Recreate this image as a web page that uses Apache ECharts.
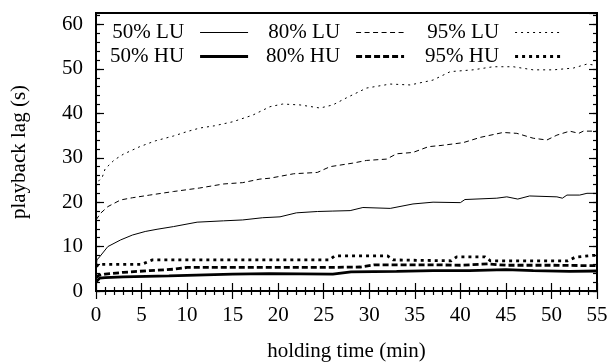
<!DOCTYPE html>
<html>
<head>
<meta charset="utf-8">
<script src="https://cdn.jsdelivr.net/npm/echarts@6/dist/echarts.min.js"></script>
</head>
<body style="margin:0;background:#fff">
<div id="main" style="width:613px;height:362px;"></div>
<script>
// holding time (min) / playback lag (s)
var lu50T = [0, 0.1, 0.4, 1.3, 2.7, 4, 5.4, 6.7, 8.5, 11.1, 14, 16.1, 18.3, 20.2, 22, 24.3, 26, 27.9, 29.3, 32.3, 34.8, 37, 40, 40.5, 44, 45.1, 46.3, 47.6, 50.6, 51.2, 51.7, 53.1, 53.9, 55];
var lu50V = [4.5, 7.0, 7.7, 10.0, 11.5, 12.6, 13.4, 13.9, 14.5, 15.5, 15.8, 16.0, 16.5, 16.7, 17.6, 17.9, 18.0, 18.1, 18.8, 18.6, 19.6, 20.0, 19.9, 20.6, 20.9, 21.2, 20.7, 21.4, 21.2, 20.9, 21.6, 21.6, 22.0, 22.0];

var lu80T = [0, 0.5, 1.3, 2.7, 4, 5.9, 8.5, 11.4, 14, 16.1, 18, 19.1, 21.7, 24.3, 25.7, 28.2, 29.7, 31.9, 33, 34.8, 36.5, 38, 40.3, 42.2, 44.7, 46.2, 48, 49.5, 50.6, 52, 53, 53.5, 55];
var lu80V = [16.0, 17.5, 19.0, 20.5, 21.0, 21.6, 22.4, 23.2, 24.1, 24.4, 25.2, 25.4, 26.4, 26.7, 28.0, 28.8, 29.4, 29.7, 30.9, 31.2, 32.5, 32.8, 33.4, 34.6, 35.7, 35.5, 34.4, 34.0, 35.1, 36.0, 35.5, 36.0, 36.0];

var lu95T = [0, 0.3, 0.7, 1, 2, 3, 4.8, 6.5, 8.5, 10, 11.4, 13, 15, 17.2, 19.1, 20.5, 22.4, 24.6, 26, 27.5, 29.7, 32.3, 34.5, 37, 38.9, 41.4, 43.6, 45.8, 48, 50.2, 52.4, 53.9, 55];
var lu95V = [23.5, 24.8, 25.7, 27.5, 29.5, 30.8, 32.5, 33.8, 34.9, 35.9, 36.7, 37.2, 38.1, 39.6, 41.5, 42.1, 41.9, 41.2, 41.9, 43.5, 45.7, 46.6, 46.4, 47.5, 49.4, 49.8, 50.5, 50.5, 49.8, 49.8, 50.2, 51.1, 50.8];

var hu50T = [0, 0.4, 1, 3, 8, 15, 19, 26, 28, 33, 37, 41, 45, 48, 52, 55];
var hu50V = [2.0, 2.9, 3.0, 3.2, 3.4, 3.8, 3.9, 3.8, 4.3, 4.4, 4.6, 4.6, 4.8, 4.6, 4.4, 4.5];

var hu80T = [0, 0.3, 1, 3, 5.9, 8.5, 10, 15, 20, 25, 29, 30.5, 37, 40, 43, 45, 50, 55];
var hu80V = [3.0, 3.5, 3.8, 4.2, 4.6, 4.9, 5.3, 5.3, 5.3, 5.3, 5.4, 5.9, 5.9, 5.8, 6.1, 5.8, 5.8, 5.7];

var hu95T = [0, 0.3, 5, 6.2, 18, 25.6, 26.2, 32, 32.6, 39, 39.6, 42.7, 43.3, 51.8, 52.6, 54.5, 55];
var hu95V = [5.5, 6.0, 6.0, 7.0, 7.0, 7.0, 7.9, 7.9, 7.0, 6.8, 7.7, 7.7, 6.8, 6.8, 7.6, 8.0, 8.0];

var xMax = 55, xStep = 5;
var yMax = 62.6, yStep = 10, yMinorStep = 2;

var serif = "'Liberation Serif', 'Times New Roman', serif";

function zip(t, v) {
    var out = [];
    for (var i = 0; i < t.length; i++) out.push([t[i], v[i]]);
    return out;
}

function line(name, t, v, width, dash) {
    return {
        name: name,
        type: 'line',
        symbol: 'none',
        showSymbol: false,
        silent: true,
        data: zip(t, v),
        lineStyle: { color: '#000', width: width, type: dash, cap: 'butt' },
        itemStyle: { color: '#000' }
    };
}

function xAx(pos, labels) {
    return {
        type: 'value', position: pos, min: 0, max: xMax, interval: xStep,
        axisLine: { show: false },
        axisTick: { show: true, inside: true, length: 8, lineStyle: { color: '#000', width: 1.2 } },
        minorTick: { show: true, splitNumber: 5, length: 4, lineStyle: { color: '#000', width: 1.2 } },
        splitLine: { show: false },
        axisLabel: { show: labels, margin: 14, color: '#000', fontSize: 21, fontFamily: serif },
        name: labels ? 'holding time (min)' : '',
        nameLocation: 'middle', nameGap: 50,
        nameTextStyle: { color: '#000', fontSize: 21, fontFamily: serif }
    };
}

function yAx(pos, step, len, labels) {
    return {
        type: 'value', position: pos, min: 0, max: yMax, interval: step,
        axisLine: { show: false },
        axisTick: { show: true, inside: true, length: len, lineStyle: { color: '#000', width: 1.2 } },
        splitLine: { show: false },
        axisLabel: { show: labels, showMaxLabel: false, margin: 13, padding: [4, 0, 0, 0], color: '#000', fontSize: 21, fontFamily: serif },
        name: labels ? 'playback lag (s)' : '',
        nameLocation: 'middle', nameGap: 66,
        nameTextStyle: { color: '#000', fontSize: 21, fontFamily: serif }
    };
}

function legendCol(names, left) {
    return {
        data: names, orient: 'vertical', align: 'right', left: left, top: 22,
        padding: 0, itemGap: 3, itemWidth: 48, itemHeight: 14,
        selectedMode: false,
        itemStyle: { color: 'rgba(0,0,0,0)', borderWidth: 0, opacity: 0 },
        lineStyle: { width: 'inherit', type: 'inherit', color: '#000' },
        textStyle: { color: '#000', fontSize: 21, fontFamily: serif, padding: [0, 11, 0, 0] }
    };
}

var myChart = echarts.init(document.getElementById('main'));
var option = {
    animation: false,
    backgroundColor: '#fff',
    grid: {
        left: 96, right: 16, top: 13, bottom: 71,
        outerBoundsMode: 'none', containLabel: false,
        show: true, borderColor: '#000', borderWidth: 2
    },
    legend: [
        legendCol(['50% LU', '50% HU'], 110),
        legendCol(['80% LU', '80% HU'], 266),
        legendCol(['95% LU', '95% HU'], 425)
    ],
    xAxis: [xAx('bottom', true), xAx('top', false)],
    yAxis: [
        yAx('left', yStep, 8, true),
        yAx('left', yMinorStep, 4, false),
        yAx('right', yStep, 8, false),
        yAx('right', yMinorStep, 4, false)
    ],
    series: [
        line('50% LU', lu50T, lu50V, 1, 'solid'),
        line('80% LU', lu80T, lu80V, 1, [5, 3.5]),
        line('95% LU', lu95T, lu95V, 1, [2, 4]),
        line('50% HU', hu50T, hu50V, 2.8, 'solid'),
        line('80% HU', hu80T, hu80V, 2.8, [6, 3]),
        line('95% HU', hu95T, hu95V, 2.8, [3, 4])
    ]
};
myChart.setOption(option);
</script>
</body>
</html>
